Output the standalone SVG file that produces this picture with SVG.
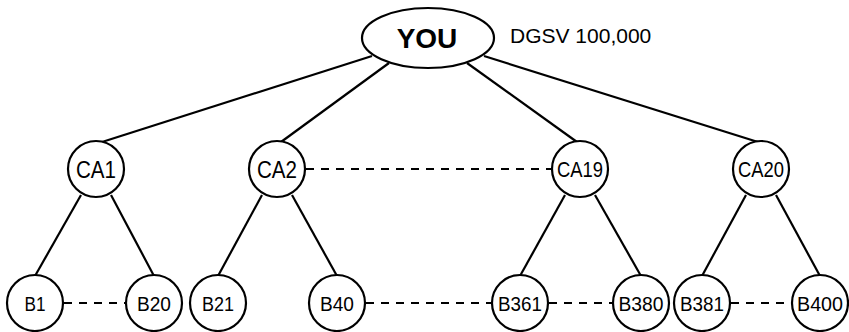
<svg xmlns="http://www.w3.org/2000/svg" width="849" height="332" viewBox="0 0 849 332">
<style>
.n{fill:#fff;stroke:#000;stroke-width:2.2}
.e{stroke:#000;stroke-width:2.2;fill:none}
.d{stroke:#000;stroke-width:2.2;stroke-dasharray:8 7;fill:none}
.t{font-family:"Liberation Sans",Arial,sans-serif;fill:#000;text-anchor:middle}
.ca{font-size:24px}
.ca2{font-size:22px}
.b{font-size:20px}
</style>
<rect width="849" height="332" fill="#fff"/>
<g id="connectors">
<line class="e" x1="372" y1="56" x2="102" y2="142"/>
<line class="e" x1="389" y1="63" x2="281" y2="142"/>
<line class="e" x1="467" y1="63" x2="577" y2="142"/>
<line class="e" x1="484" y1="56" x2="758" y2="142"/>
<line class="e" x1="81" y1="195" x2="35" y2="276"/>
<line class="e" x1="111" y1="195" x2="154" y2="276"/>
<line class="e" x1="262" y1="195" x2="218" y2="276"/>
<line class="e" x1="292" y1="195" x2="337" y2="276"/>
<line class="e" x1="565" y1="195" x2="520" y2="276"/>
<line class="e" x1="595" y1="195" x2="641" y2="276"/>
<line class="e" x1="746" y1="195" x2="702" y2="276"/>
<line class="e" x1="776" y1="195" x2="820" y2="276"/>
<line class="d" x1="306" y1="169" x2="552" y2="169"/>
<line class="d" x1="64" y1="303" x2="126" y2="303"/>
<line class="d" x1="366" y1="303" x2="492" y2="303"/>
<line class="d" x1="549" y1="303" x2="613" y2="303"/>
<line class="d" x1="731" y1="303" x2="792" y2="303"/>
</g>
<g id="you">
<ellipse class="n" cx="428" cy="38" rx="66" ry="30"/>
<text class="t" x="427" y="48" font-size="28" font-weight="bold">YOU</text>
</g>
<g id="label">
<text x="510" y="43" font-family="Liberation Sans,Arial,sans-serif" font-size="21">DGSV 100,000</text>
</g>
<g id="ca1"><circle class="n" cx="96" cy="169" r="28"/><text class="t ca" x="96" y="178" textLength="40" lengthAdjust="spacingAndGlyphs">CA1</text></g>
<g id="ca2"><circle class="n" cx="277" cy="169" r="28"/><text class="t ca" x="277" y="178" textLength="40" lengthAdjust="spacingAndGlyphs">CA2</text></g>
<g id="ca19"><circle class="n" cx="580" cy="169" r="28"/><text class="t ca2" x="580" y="177" textLength="46" lengthAdjust="spacingAndGlyphs">CA19</text></g>
<g id="ca20"><circle class="n" cx="761" cy="169" r="28"/><text class="t ca2" x="761" y="177" textLength="46" lengthAdjust="spacingAndGlyphs">CA20</text></g>
<g id="b1"><circle class="n" cx="35" cy="303" r="28"/><text class="t b" x="35" y="310.5" textLength="21" lengthAdjust="spacingAndGlyphs">B1</text></g>
<g id="b20"><circle class="n" cx="154" cy="303" r="28"/><text class="t b" x="154" y="310.5" textLength="34" lengthAdjust="spacingAndGlyphs">B20</text></g>
<g id="b21"><circle class="n" cx="218" cy="303" r="28"/><text class="t b" x="218" y="310.5" textLength="32" lengthAdjust="spacingAndGlyphs">B21</text></g>
<g id="b40"><circle class="n" cx="337" cy="303" r="28"/><text class="t b" x="337" y="310.5" textLength="34" lengthAdjust="spacingAndGlyphs">B40</text></g>
<g id="b361"><circle class="n" cx="520" cy="303" r="28"/><text class="t b" x="520" y="310.5" textLength="44" lengthAdjust="spacingAndGlyphs">B361</text></g>
<g id="b380"><circle class="n" cx="641" cy="303" r="28"/><text class="t b" x="641" y="310.5" textLength="45" lengthAdjust="spacingAndGlyphs">B380</text></g>
<g id="b381"><circle class="n" cx="702" cy="303" r="28"/><text class="t b" x="702" y="310.5" textLength="44" lengthAdjust="spacingAndGlyphs">B381</text></g>
<g id="b400"><circle class="n" cx="820" cy="303" r="28"/><text class="t b" x="820" y="310.5" textLength="46" lengthAdjust="spacingAndGlyphs">B400</text></g>
</svg>
